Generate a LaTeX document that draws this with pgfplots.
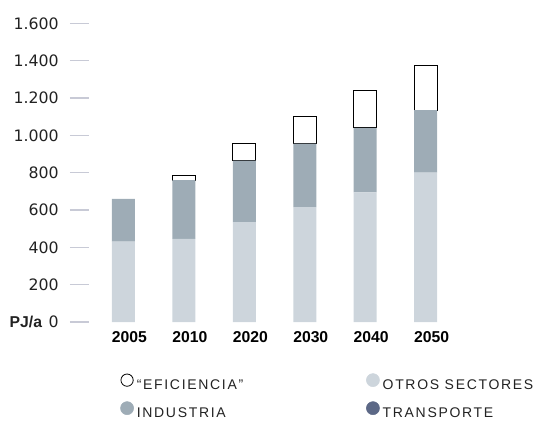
\documentclass[border=0pt]{standalone}
\usepackage{fontspec}
\setmainfont{DejaVu Sans}
\newfontfamily\yearfont{Liberation Sans}
\newfontfamily\legfont[LetterSpace=12]{Liberation Sans}
\usepackage{pgfplots}
\pgfplotsset{compat=1.18}
\definecolor{otros}{HTML}{CDD5DC}
\definecolor{industria}{HTML}{9EACB6}
\definecolor{transporte}{HTML}{5C6886}
\definecolor{tickgray}{HTML}{C8CAD6}
\definecolor{txt}{HTML}{222222}
\begin{document}
\begin{tikzpicture}
\begin{axis}[
  at={(0,0)}, anchor=south west,
  scale only axis, width=278.25pt, height=224pt,
  xmin=-0.67, xmax=5.47, ymin=0, ymax=1600,
  ybar stacked, stacked ignores zero,
  every axis plot/.append style={bar width=17.25pt, bar shift=-4.5pt},
  axis line style={draw=none},
  tick align=outside,
  major tick length=14.25pt,
  xtick={0,1,2,3,4,5},
  xticklabels={2005,2010,2020,2030,2040,2050},
  xtick style={draw=none},
  xticklabel style={font=\yearfont\bfseries\fontsize{11.8}{14}\selectfont, text=black, inner sep=0pt, anchor=north, yshift=7pt},
  ytick={0,200,400,600,800,1000,1200,1400,1600},
  yticklabels={{{\yearfont\bfseries PJ/a}\hspace{5pt}0},200,400,600,800,{1.000},{1.200},{1.400},{1.600}},
  ytick pos=left,
  ytick style={draw=tickgray, line width=0.8pt},
  yticklabel style={font=\fontsize{11.8}{14}\selectfont, text=txt, inner sep=0pt, anchor=east, xshift=-8.25pt},
  legend columns=2,
  legend cell align=left,
  legend style={at={(axis description cs:0.0836,-0.171)}, anchor=north west, draw=none, fill=none, inner sep=0pt,
    /tikz/every even column/.append style={column sep=0pt},
    /tikz/every odd column/.append style={column sep=0pt},
    row sep=7.75pt,
    nodes={inner sep=0pt, font=\legfont\fontsize{10.5}{12}\selectfont, text=txt}},
]
\addplot+[forget plot, fill=otros, draw=none] coordinates {(0,430) (1,445) (2,535) (3,615) (4,695) (5,800)};
\addplot+[forget plot, fill=industria, draw=none] coordinates {(0,230) (1,315) (2,330) (3,340) (4,345) (5,335)};
\addplot+[forget plot, fill=white, draw=black, line width=0.8pt] coordinates {(0,0) (1,23) (2,90) (3,145) (4,200) (5,240)};
\addlegendimage{legend image code/.code={\path (0pt,0pt) (12pt,0pt); \draw[fill=white, draw=black, line width=0.6pt] (4.9pt,3.75pt) circle (4.6pt);}}
\addlegendentry{\makebox[172pt][l]{“EFICIENCIA”}}
\addlegendimage{legend image code/.code={\path (0pt,0pt) (12pt,0pt); \fill[otros] (4.9pt,3.75pt) circle (4.9pt);}}
\addlegendentry{OTROS SECTORES}
\addlegendimage{legend image code/.code={\path (0pt,0pt) (12pt,0pt); \fill[industria] (4.9pt,3.75pt) circle (4.9pt);}}
\addlegendentry{\makebox[172pt][l]{INDUSTRIA}}
\addlegendimage{legend image code/.code={\path (0pt,0pt) (12pt,0pt); \fill[transporte] (4.9pt,3.75pt) circle (4.9pt);}}
\addlegendentry{TRANSPORTE}
\end{axis}
\path[use as bounding box] (-66.75pt,-74.25pt) rectangle (336.75pt,241.5pt);
\end{tikzpicture}
\end{document}
